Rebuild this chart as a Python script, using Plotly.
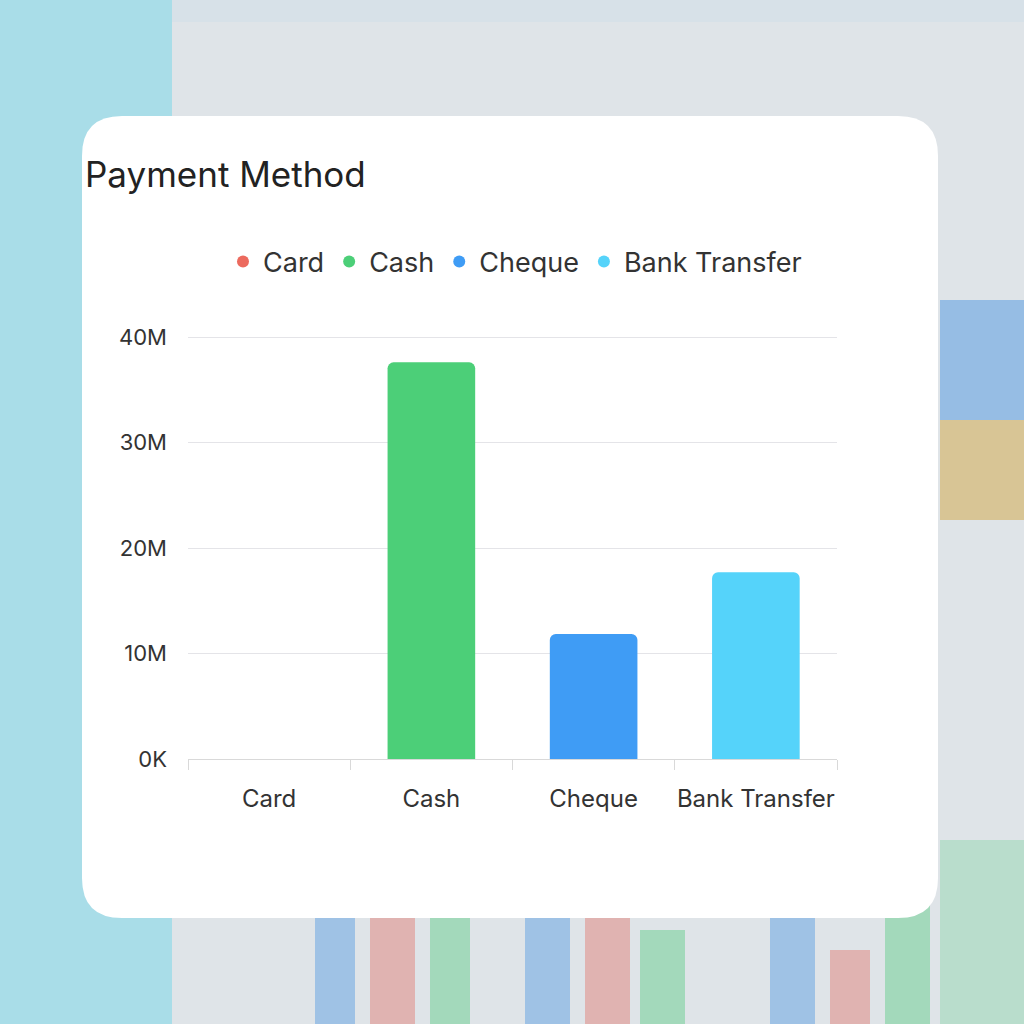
import plotly.graph_objects as go

categories = ["Card", "Cash", "Cheque", "Bank Transfer"]
values = [0, 37.6e6, 11.85e6, 17.7e6]
colors = ["#ec6a5e", "#4ccf78", "#3f9cf5", "#55d3fa"]
ytick_vals = [0, 10e6, 20e6, 30e6, 40e6]
ytick_text = ["0K", "10M", "20M", "30M", "40M"]

FONT = "Inter, Lato, sans-serif"
W, H = 1024, 1024
PL, PR, PT, PB = 188, 837, 336, 759  # plot area in page pixels
YMAX = 40.1e6

fig = go.Figure()
fig.add_trace(go.Bar(
    x=categories, y=values, marker=dict(color=colors, cornerradius=6, line=dict(width=0)),
    width=0.54, showlegend=False, hoverinfo="x+y",
))
for c, col in zip(categories, colors):
    fig.add_trace(go.Scatter(
        x=[None], y=[None], mode="markers", name=c,
        marker=dict(color=col, size=18, symbol="circle"),
    ))

def cx(x):
    return (x - PL) / (PR - PL)
def cy(y):
    return (PB - y) / (PB - PT)

def rect(x0, y0, x1, y1, color, opacity=1.0):
    return dict(type="rect", xref="paper", yref="paper",
                x0=cx(x0), x1=cx(x1), y0=cy(y1), y1=cy(y0),
                fillcolor=color, opacity=opacity, line_width=0, layer="below")

shapes = []
# blurred dashboard background approximation
shapes.append(rect(-20, -20, 1044, 1044, "#dfe4e8"))
shapes.append(rect(-20, -20, 172, 1044, "#a9dde8"))
shapes.append(rect(172, -20, 1044, 22, "#d6e0e8", 0.9))
for (x0, y0, x1, col) in [(315, 900, 355, "#3f8fe0"), (370, 900, 415, "#e06a5e"), (430, 900, 470, "#49c877"),
                          (525, 900, 570, "#3f8fe0"), (585, 900, 630, "#e06a5e"), (640, 930, 685, "#49c877"),
                          (770, 900, 815, "#3f8fe0"), (830, 950, 870, "#e06a5e"), (885, 900, 930, "#49c877")]:
    shapes.append(rect(x0, y0, x1, 1044, col, 0.4))
shapes.append(rect(940, 300, 1044, 420, "#3f8fe0", 0.45))
shapes.append(rect(940, 420, 1044, 520, "#d0a030", 0.45))
shapes.append(rect(940, 840, 1044, 1044, "#49c877", 0.25))

# white rounded card
x0, y0, x1, y1, r = 82, 116, 938, 918, 40
path = (f"M {cx(x0 + r)},{cy(y0)} L {cx(x1 - r)},{cy(y0)} "
        f"Q {cx(x1)},{cy(y0)} {cx(x1)},{cy(y0 + r)} "
        f"L {cx(x1)},{cy(y1 - r)} Q {cx(x1)},{cy(y1)} {cx(x1 - r)},{cy(y1)} "
        f"L {cx(x0 + r)},{cy(y1)} Q {cx(x0)},{cy(y1)} {cx(x0)},{cy(y1 - r)} "
        f"L {cx(x0)},{cy(y0 + r)} Q {cx(x0)},{cy(y0)} {cx(x0 + r)},{cy(y0)} Z")
shapes.append(dict(type="path", xref="paper", yref="paper", path=path,
                   fillcolor="#ffffff", line_width=0, layer="below"))

fig.update_layout(
    width=W, height=H,
    margin=dict(l=PL, r=W - PR, t=PT, b=H - PB),
    paper_bgcolor="#dfe4e8", plot_bgcolor="rgba(0,0,0,0)",
    font=dict(family=FONT, color="#333333"),
    title=dict(text="Payment Method", x=85 / W, xanchor="left", xref="container",
               y=1 - 175 / H, yanchor="middle", yref="container",
               font=dict(size=35, color="#222222", family=FONT)),
    legend=dict(orientation="h", x=cx(515), xanchor="center", y=cy(262),
                yanchor="middle", font=dict(size=27, color="#333333"),
                bgcolor="rgba(0,0,0,0)", itemsizing="constant", traceorder="normal"),
    shapes=shapes,
    xaxis=dict(type="category", showline=True, linecolor="#d9d9d9", linewidth=1,
               ticks="outside", tickson="boundaries", ticklen=10, tickcolor="#d9d9d9",
               tickfont=dict(size=24, color="#333333"), ticklabelstandoff=18,
               tickangle=0, showgrid=False, range=[-0.5, 3.5], fixedrange=True),
    yaxis=dict(range=[0, YMAX], tickvals=ytick_vals, ticktext=ytick_text,
               showgrid=True, gridcolor="#e4e4e8", gridwidth=1, zeroline=False,
               tickfont=dict(size=22, color="#333333"), ticklabelstandoff=20,
               showline=False),
)

fig.write_html("out.html", config={"displayModeBar": False},
               post_script="document.body.style.margin='0';document.body.style.background='#dfe4e8';")
